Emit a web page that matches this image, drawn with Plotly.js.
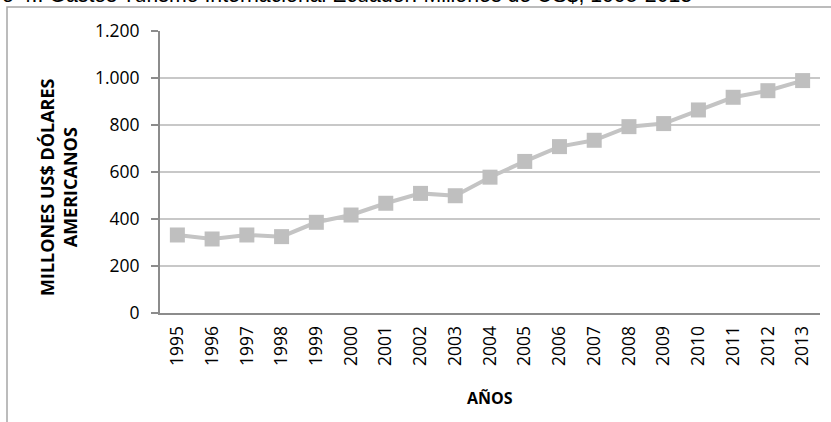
<!DOCTYPE html>
<html>
<head>
<meta charset="utf-8">
<script src="https://cdn.plot.ly/plotly-3.0.1.min.js"></script>
<style>html,body{margin:0;padding:0;background:#fff;overflow:hidden;}</style>
</head>
<body>
<div id="chart" style="width:831px;height:422px;"></div>
<script>
const years = ["1995","1996","1997","1998","1999","2000","2001","2002","2003","2004","2005","2006","2007","2008","2009","2010","2011","2012","2013"];
const gastos = [332, 315, 332, 325, 386, 417, 467, 509, 499, 578, 645, 708, 735, 793, 806, 864, 918, 946, 989];
const yTicks = [0, 200, 400, 600, 800, 1000, 1200];
const chartTitle = "o 4.: Gastos Turismo Internacional Ecuador: Millones de US$, 1995-2013";
const yTitle = "MILLONES US$ DÓLARES<br>AMERICANOS";
const xTitle = "AÑOS";

const W = 831, H = 422;
const L = 160, R = 11, T = 31, B = 109;
const pw = W - L - R, ph = H - T - B;
const px = x => (x - L) / pw;
const py = y => (H - B - y) / ph;

const trace = {
  x: years,
  y: gastos,
  type: 'scatter',
  mode: 'lines+markers',
  line: {color: '#c4c4c4', width: 4},
  marker: {symbol: 'square', size: 15, color: '#bfbfbf'},
  hoverinfo: 'x+y'
};

const layout = {
  width: W, height: H,
  margin: {l: L, r: R, t: T, b: B, pad: 0},
  paper_bgcolor: '#ffffff',
  plot_bgcolor: '#ffffff',
  showlegend: false,
  separators: ',.',
  font: {family: 'Open Sans, sans-serif', color: '#000000'},
  xaxis: {
    type: 'category',
    range: [-0.5, years.length - 0.5],
    showline: true, linecolor: '#8c8c8c', linewidth: 2,
    showgrid: false, zeroline: false,
    ticks: '', tickangle: -90,
    ticklabelstandoff: 4,
    tickfont: {family: 'Open Sans, sans-serif', size: 17.5, color: '#000'},
    fixedrange: true
  },
  yaxis: {
    range: [0, 1200],
    tickvals: yTicks,
    tickformat: ',d',
    showline: true, linecolor: '#8c8c8c', linewidth: 2,
    showgrid: true, gridcolor: '#c8c8c8', gridwidth: 1.5,
    zeroline: false,
    ticks: 'outside', ticklen: 7, tickcolor: '#8c8c8c', tickwidth: 1.5,
    ticklabelstandoff: 8,
    tickfont: {family: 'Open Sans, sans-serif', size: 17.5, color: '#000'},
    fixedrange: true
  },
  shapes: [{
    type: 'rect', xref: 'paper', yref: 'paper',
    x0: px(7), x1: px(840), y0: py(430), y1: py(7),
    line: {color: '#a6a6a6', width: 1.5}, fillcolor: 'rgba(0,0,0,0)', layer: 'below'
  }],
  annotations: [
    {text: chartTitle, xref: 'paper', yref: 'paper', x: px(0), y: py(-5),
     xanchor: 'left', yanchor: 'middle', showarrow: false,
     font: {family: 'Liberation Sans, Arial, sans-serif', size: 21.3, color: '#000'}},
    {text: yTitle, xref: 'paper', yref: 'paper', x: px(58), y: py(187),
     xanchor: 'center', yanchor: 'middle', textangle: -90, showarrow: false,
     font: {family: 'Open Sans, sans-serif', size: 18, color: '#000', weight: 'bold'}},
    {text: '<b>' + xTitle + '</b>', xref: 'paper', yref: 'paper', x: 0.5, y: py(398),
     xanchor: 'center', yanchor: 'middle', showarrow: false,
     font: {family: 'Open Sans, sans-serif', size: 16, color: '#000'}}
  ]
};

Plotly.newPlot('chart', [trace], layout, {displayModeBar: false, staticPlot: true});
</script>
</body>
</html>
